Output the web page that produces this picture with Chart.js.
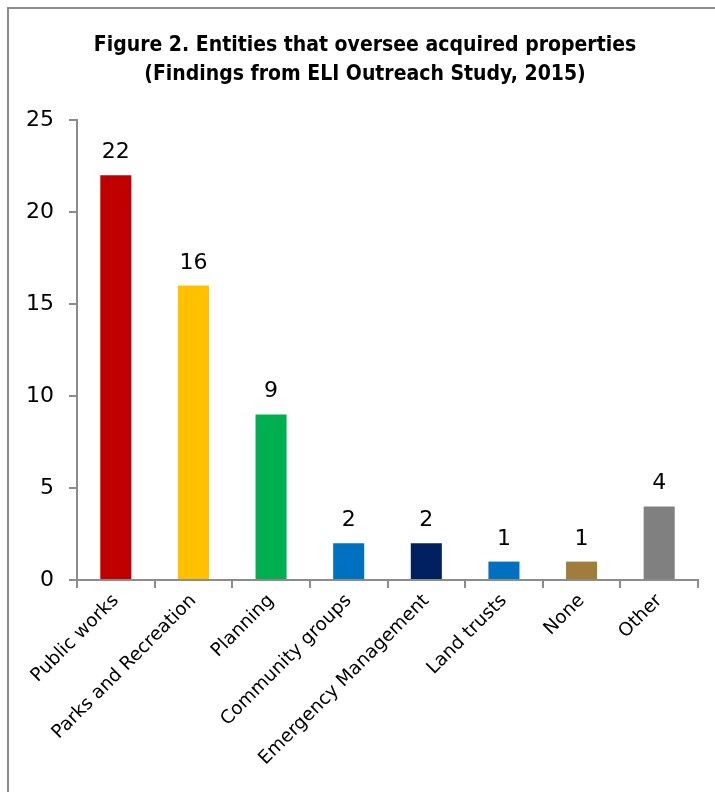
<!DOCTYPE html>
<html>
<head>
<meta charset="utf-8">
<script src="https://cdn.jsdelivr.net/npm/chart.js@4.4.1/dist/chart.umd.min.js"></script>
<style>
  html, body { margin: 0; padding: 0; background: #fff; overflow: hidden; }
  #frame { position: absolute; left: 7px; top: 7px; width: 760px; height: 840px; border: 2px solid #8c8c8c; }
  #wrap { position: absolute; left: 0; top: 0; width: 715px; height: 792px; }
</style>
</head>
<body>
<div id="frame"></div>
<div id="wrap"><canvas id="c" width="715" height="792"></canvas></div>
<script>
// Figure 2 data
const titleLines = ['Figure 2. Entities that oversee acquired properties', '(Findings from ELI Outreach Study, 2015)'];
const categories = ['Public works', 'Parks and Recreation', 'Planning', 'Community groups',
                    'Emergency Management', 'Land trusts', 'None', 'Other'];
const counts = [22, 16, 9, 2, 2, 1, 1, 4];
const barColors = ['#C00000', '#FFC000', '#00B050', '#0070C0', '#002060', '#0070C0', '#A07D3B', '#808080'];
const yTicks = [0, 5, 10, 15, 20, 25];

const AXIS = '#8c8c8c';
const FONT = '"DejaVu Sans", sans-serif';

// titre + valeurs au-dessus des barres
const labelsPlugin = {
  id: 'extras',
  afterDraw(chart) {
    const ctx = chart.ctx;
    ctx.save();
    ctx.fillStyle = '#000';
    ctx.textAlign = 'center';
    ctx.textBaseline = 'middle';
    ctx.font = 'bold 21px "DejaVu Sans Condensed", "DejaVu Sans", sans-serif';
    ctx.fillText(titleLines[0], 365, 46);
    ctx.fillText(titleLines[1], 365, 75);

    ctx.font = '22px ' + FONT;
    ctx.textBaseline = 'alphabetic';
    const meta = chart.getDatasetMeta(0);
    meta.data.forEach((bar, i) => {
      ctx.fillText(String(counts[i]), bar.x, bar.y - 17);
    });
    ctx.restore();
  }
};

new Chart(document.getElementById('c'), {
  type: 'bar',
  data: {
    labels: categories,
    datasets: [{
      data: counts,
      backgroundColor: barColors,
      categoryPercentage: 1,
      barPercentage: 0.4
    }]
  },
  options: {
    responsive: false,
    animation: false,
    layout: { padding: { top: 120, right: 17, left: 0, bottom: 0 } },
    plugins: { legend: { display: false }, tooltip: { enabled: false } },
    scales: {
      x: {
        border: { color: AXIS, width: 2 },
        grid: { drawOnChartArea: false, color: AXIS, lineWidth: 2, tickLength: 8, offset: true },
        ticks: { color: '#000', font: { family: FONT, size: 18.5 }, minRotation: 45, maxRotation: 45, padding: 2 },
        afterFit(s) { s.height = 212; }
      },
      y: {
        min: 0, max: 25,
        border: { color: AXIS, width: 2 },
        grid: { drawOnChartArea: false, color: AXIS, lineWidth: 2, tickLength: 8 },
        afterBuildTicks(s) { s.ticks = yTicks.map(v => ({ value: v })); },
        ticks: { color: '#000', font: { family: FONT, size: 22 }, padding: 15 },
        afterFit(s) { s.width = 77; }
      }
    }
  },
  plugins: [labelsPlugin]
});
</script>
</body>
</html>
